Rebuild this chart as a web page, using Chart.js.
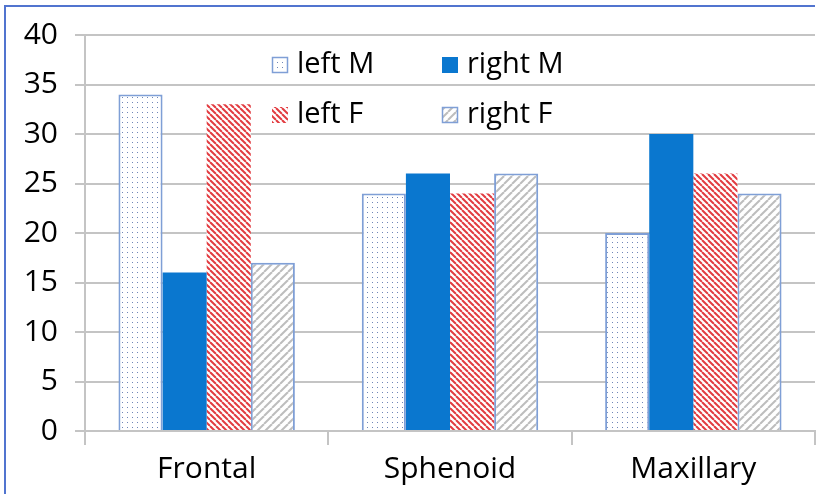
<!DOCTYPE html>
<html>
<head>
<meta charset="utf-8">
<script src="https://cdn.jsdelivr.net/npm/chart.js@4/dist/chart.umd.min.js"></script>
<style>
  html, body { margin: 0; padding: 0; background: #fff; }
  #wrap { position: relative; width: 817px; height: 494px; }
</style>
</head>
<body>
<div id="wrap"><canvas id="chart" width="817" height="494"></canvas></div>
<script>
// data
const categories = ['Frontal', 'Sphenoid', 'Maxillary'];
const seriesNames = ['left M', 'right M', 'left F', 'right F'];
const leftM  = [34, 24, 20];
const rightM = [16, 26, 30];
const leftF  = [33, 24, 26];
const rightF = [17, 26, 24];
const yTicks = [0, 5, 10, 15, 20, 25, 30, 35, 40];

const FONT = '"Open Sans", Lato, sans-serif';
const BLUE = '#0a77cf';
const EDGE = '#7f9fd6';

// --- fill patterns ---
function makePattern(ctx, size, draw) {
    const c = document.createElement('canvas');
    c.width = size; c.height = size;
    const p = c.getContext('2d');
    p.fillStyle = '#fff';
    p.fillRect(0, 0, size, size);
    draw(p, size);
    return ctx.createPattern(c, 'repeat');
}

const canvas = document.getElementById('chart');
const ctx = canvas.getContext('2d');

const dots = makePattern(ctx, 5, (p) => {
    p.fillStyle = '#6f86b8';
    p.fillRect(2, 2, 1, 1);
});

const redStripes = makePattern(ctx, 6, (p, s) => {
    p.strokeStyle = '#e23b40';
    p.lineWidth = 2;
    for (let k = -1; k <= 1; k++) {
        p.beginPath();
        p.moveTo(k * s, 0);
        p.lineTo(k * s + s, s);
        p.stroke();
    }
});

const grayStripes = makePattern(ctx, 8, (p, s) => {
    p.strokeStyle = '#bdbdbd';
    p.lineWidth = 2;
    for (let k = -1; k <= 1; k++) {
        p.beginPath();
        p.moveTo(k * s, s);
        p.lineTo(k * s + s, 0);
        p.stroke();
    }
});

// legend laid out 2 x 2 inside the plot
const legendGrid = {
    id: 'legendGrid',
    afterDraw(chart) {
        const c = chart.ctx;
        const area = chart.chartArea;
        const cols = [area.left + 187, area.left + 357];
        const rows = [area.top + 30, area.top + 80];
        c.save();
        c.font = '29px ' + FONT;
        c.textBaseline = 'middle';
        chart.data.datasets.forEach((ds, i) => {
            const x = cols[i % 2];
            const y = rows[Math.floor(i / 2)];
            c.fillStyle = ds.backgroundColor;
            c.fillRect(x, y - 8, 16, 16);
            if (ds.borderWidth) {
                c.strokeStyle = ds.borderColor;
                c.lineWidth = 1.5;
                c.strokeRect(x + 0.5, y - 7.5, 15, 15);
            }
            c.fillStyle = '#000';
            c.fillText(ds.label, x + 25, y);
        });
        c.restore();
    }
};

// blue frame on top and left
const frame = {
    id: 'frame',
    beforeDraw(chart) {
        const c = chart.ctx;
        c.save();
        c.strokeStyle = '#5174cf';
        c.lineWidth = 2;
        c.beginPath();
        c.moveTo(5, 494);
        c.lineTo(5, 6);
        c.lineTo(815, 6);
        c.stroke();
        c.restore();
    }
};

new Chart(ctx, {
    type: 'bar',
    data: {
        labels: categories,
        datasets: [
            { label: seriesNames[0], data: leftM,  backgroundColor: dots,        borderColor: EDGE, borderWidth: 2 },
            { label: seriesNames[1], data: rightM, backgroundColor: BLUE,        borderColor: BLUE, borderWidth: 0 },
            { label: seriesNames[2], data: leftF,  backgroundColor: redStripes,  borderColor: '#e23b40', borderWidth: 0 },
            { label: seriesNames[3], data: rightF, backgroundColor: grayStripes, borderColor: EDGE, borderWidth: 2 }
        ]
    },
    options: {
        responsive: false,
        animation: false,
        categoryPercentage: 0.725,
        barPercentage: 1.0,
        layout: { padding: { left: 0, top: 33, right: 2, bottom: 0 } },
        plugins: {
            legend: { display: false },
            tooltip: { enabled: false }
        },
        scales: {
            x: {
                grid: {
                    display: true,
                    drawOnChartArea: false,
                    color: '#c4c4c4',
                    lineWidth: 2,
                    tickLength: 14
                },
                border: { color: '#c4c4c4', width: 2 },
                ticks: {
                    color: '#000',
                    font: { family: FONT, size: 30 },
                    padding: 6
                },
                afterFit(s) { s.height = 63; }
            },
            y: {
                min: 0,
                max: 40,
                afterBuildTicks(s) { s.ticks = yTicks.map(v => ({ value: v })); },
                grid: {
                    color: '#c4c4c4',
                    lineWidth: 2,
                    tickLength: 10
                },
                border: { color: '#c4c4c4', width: 2 },
                ticks: {
                    color: '#000',
                    font: { family: FONT, size: 30 },
                    padding: 17
                },
                afterFit(s) { s.width = 85; }
            }
        }
    },
    plugins: [frame, legendGrid]
});
</script>
</body>
</html>
